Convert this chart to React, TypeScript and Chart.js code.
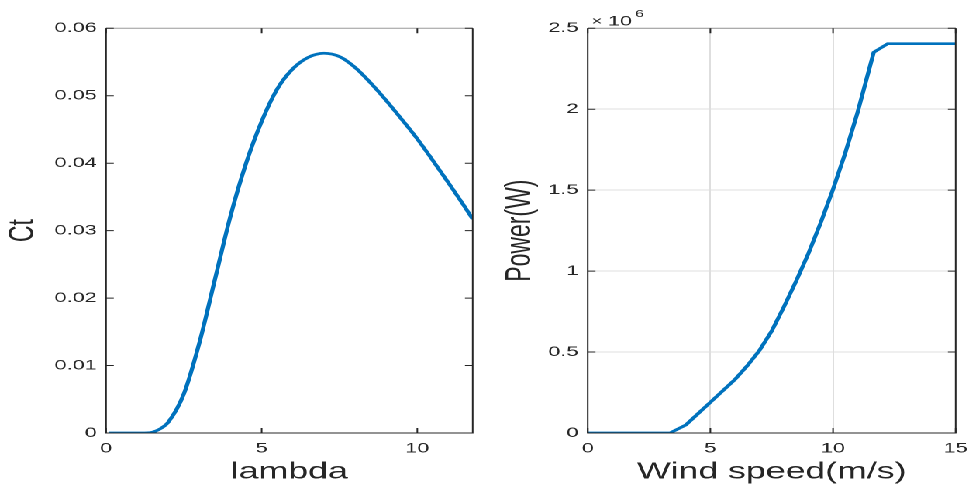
import React, { useEffect, useRef } from 'react';
import { Chart, registerables } from 'chart.js';

Chart.register(...registerables);

// ---- data ----
const lambdaValues = [0.1, 0.5, 1.0, 1.4, 1.6, 1.8, 2.0, 2.5, 3.0, 3.5, 4.0, 4.5, 5.0, 5.5, 6.0, 6.5, 7.0, 7.5, 8.0, 8.5, 9.0, 9.5, 10.0, 10.5, 11.0, 11.5, 11.78];
const ctValues = [0, 0, 0, 0.00005, 0.0003, 0.0008, 0.0016, 0.0058, 0.0134, 0.0228, 0.0322, 0.0400, 0.0462, 0.0510, 0.0540, 0.0557, 0.0563, 0.0558, 0.0542, 0.0519, 0.0493, 0.0465, 0.0436, 0.0404, 0.0371, 0.0337, 0.0317];

const windSpeeds = [0, 3.35, 4.0, 4.5, 5.0, 5.5, 6.0, 6.5, 7.0, 7.5, 8.0, 8.5, 9.0, 9.5, 10.0, 10.5, 11.0, 11.66, 12.23, 15.0];
const powerValues = [0, 0, 50000, 120000, 190000, 260000, 330000, 415000, 510000, 630000, 780000, 940000, 1110000, 1300000, 1505000, 1730000, 1980000, 2352000, 2405000, 2405000];

const ctXTicks = [0, 5, 10];
const ctXTickLabels = ['0', '5', '10'];
const ctYTicks = [0, 0.01, 0.02, 0.03, 0.04, 0.05, 0.06];
const ctYTickLabels = ['0', '0.01', '0.02', '0.03', '0.04', '0.05', '0.06'];

const powerXTicks = [0, 5, 10, 15];
const powerXTickLabels = ['0', '5', '10', '15'];
const powerYTicks = [0, 500000, 1000000, 1500000, 2000000, 2500000];
const powerYTickLabels = ['0', '0.5', '1', '1.5', '2', '2.5'];

// ---- styling ----
const FONT = '"Liberation Sans", Arial, Helvetica, sans-serif';
const TEXT = '#262626';
const LINE = '#0072BD';
const STRETCH = 969 / 625;

const boxPlugin = {
  id: 'matlabBox',
  afterDraw(chart: any) {
    const { ctx, chartArea: a, scales } = chart;
    const x = scales.x;
    const y = scales.y;
    ctx.save();
    ctx.lineWidth = 1;
    ctx.strokeStyle = '#9a9a9a';
    ctx.beginPath();
    ctx.moveTo(a.left, a.top);
    ctx.lineTo(a.right, a.top);
    ctx.stroke();
    ctx.strokeStyle = TEXT;
    ctx.beginPath();
    ctx.moveTo(a.left, a.top);
    ctx.lineTo(a.left, a.bottom);
    ctx.lineTo(a.right, a.bottom);
    ctx.lineTo(a.right, a.top);
    ctx.stroke();
    const tl = 5;
    ctx.beginPath();
    x.ticks.forEach((t: any) => {
      const px = x.getPixelForValue(t.value);
      ctx.moveTo(px, a.bottom);
      ctx.lineTo(px, a.bottom - tl);
      ctx.moveTo(px, a.top);
      ctx.lineTo(px, a.top + tl);
    });
    y.ticks.forEach((t: any) => {
      const py = y.getPixelForValue(t.value);
      ctx.moveTo(a.left, py);
      ctx.lineTo(a.left + tl, py);
      ctx.moveTo(a.right, py);
      ctx.lineTo(a.right - tl, py);
    });
    ctx.stroke();
    ctx.restore();
  },
};

const exponentPlugin = {
  id: 'exponentLabel',
  afterDraw(chart: any) {
    const { ctx, chartArea: a } = chart;
    ctx.save();
    ctx.fillStyle = TEXT;
    ctx.textBaseline = 'alphabetic';
    ctx.textAlign = 'left';
    ctx.font = `12px ${FONT}`;
    ctx.fillText('\u00d7', a.left + 2.4, 25.2);
    ctx.font = `14px ${FONT}`;
    ctx.fillText('10', a.left + 13, 25.7);
    ctx.font = `10px ${FONT}`;
    ctx.fillText('6', a.left + 30.6, 17.2);
    ctx.restore();
  },
};

function makeConfig(opts: {
  xs: number[];
  ys: number[];
  xMax: number;
  yMax: number;
  xTicks: number[];
  xTickLabels: string[];
  yTicks: number[];
  yTickLabels: string[];
  xTitle: string;
  yTitle: string;
  yAxisWidth: number;
  padRight: number;
  yTitlePad: number;
  grid: boolean;
  smooth: boolean;
  plugins: any[];
}): any {
  const tickFont = { family: FONT, size: 14 };
  const titleFont = { family: FONT, size: 23 };
  return {
    type: 'line',
    data: {
      datasets: [
        {
          data: opts.xs.map((x, i) => ({ x, y: opts.ys[i] })),
          borderColor: LINE,
          borderWidth: 2.7,
          pointRadius: 0,
          fill: false,
          cubicInterpolationMode: opts.smooth ? 'monotone' : 'default',
          tension: 0,
        },
      ],
    },
    options: {
      animation: false,
      responsive: false,
      devicePixelRatio: 2,
      events: [],
      layout: { padding: { left: 0, right: opts.padRight, top: 28.3, bottom: 0 } },
      plugins: { legend: { display: false }, tooltip: { enabled: false } },
      scales: {
        x: {
          type: 'linear',
          min: 0,
          max: opts.xMax,
          afterBuildTicks: (s: any) => {
            s.ticks = opts.xTicks.map((v) => ({ value: v }));
          },
          afterFit: (s: any) => {
            s.height = 56;
            s.paddingLeft = 0;
            s.paddingRight = 0;
          },
          ticks: {
            callback: (_v: any, i: number) => opts.xTickLabels[i],
            font: tickFont,
            color: TEXT,
            padding: 7,
            maxRotation: 0,
            autoSkip: false,
          },
          grid: { display: opts.grid, drawTicks: false, color: '#dedede', lineWidth: 1 },
          border: { display: false },
          title: {
            display: true,
            text: opts.xTitle,
            font: titleFont,
            color: TEXT,
            padding: { top: 0, bottom: 3 },
          },
        },
        y: {
          type: 'linear',
          min: 0,
          max: opts.yMax,
          afterBuildTicks: (s: any) => {
            s.ticks = opts.yTicks.map((v) => ({ value: v }));
          },
          afterFit: (s: any) => {
            s.width = opts.yAxisWidth;
            s.paddingTop = 0;
            s.paddingBottom = 0;
          },
          ticks: {
            callback: (_v: any, i: number) => opts.yTickLabels[i],
            font: tickFont,
            color: TEXT,
            padding: 6,
            autoSkip: false,
          },
          grid: { display: opts.grid, drawTicks: false, color: '#dedede', lineWidth: 1 },
          border: { display: false },
          title: {
            display: true,
            text: opts.yTitle,
            font: titleFont,
            color: TEXT,
            padding: { top: opts.yTitlePad, bottom: 0 },
          },
        },
      },
    },
    plugins: opts.plugins,
  };
}

export default function App() {
  const leftRef = useRef<HTMLCanvasElement | null>(null);
  const rightRef = useRef<HTMLCanvasElement | null>(null);

  useEffect(() => {
    if (!leftRef.current || !rightRef.current) return;
    const left = new Chart(
      leftRef.current,
      makeConfig({
        xs: lambdaValues,
        ys: ctValues,
        xMax: 11.78,
        yMax: 0.06,
        xTicks: ctXTicks,
        xTickLabels: ctXTickLabels,
        yTicks: ctYTicks,
        yTickLabels: ctYTickLabels,
        xTitle: 'lambda',
        yTitle: 'Ct',
        yAxisWidth: 68.4,
        padRight: 15.1,
        yTitlePad: 1.4,
        grid: false,
        smooth: true,
        plugins: [boxPlugin],
      })
    );
    const right = new Chart(
      rightRef.current,
      makeConfig({
        xs: windSpeeds,
        ys: powerValues,
        xMax: 15,
        yMax: 2500000,
        xTicks: powerXTicks,
        xTickLabels: powerXTickLabels,
        yTicks: powerYTicks,
        yTickLabels: powerYTickLabels,
        xTitle: 'Wind speed(m/s)',
        yTitle: 'Power(W)',
        yAxisWidth: 59.1,
        padRight: 8.6,
        yTitlePad: 2,
        grid: true,
        smooth: false,
        plugins: [boxPlugin, exponentPlugin],
      })
    );
    return () => {
      left.destroy();
      right.destroy();
    };
  }, []);

  return (
    <div
      style={{
        position: 'fixed',
        left: 0,
        top: 0,
        width: 625,
        height: 489,
        background: '#ffffff',
        transform: `scaleX(${STRETCH})`,
        transformOrigin: '0 0',
      }}
    >
      <div style={{ position: 'absolute', left: 0, top: 0, width: 320, height: 489 }}>
        <canvas ref={leftRef} width={320} height={489} />
      </div>
      <div style={{ position: 'absolute', left: 320, top: 0, width: 305, height: 489 }}>
        <canvas ref={rightRef} width={305} height={489} />
      </div>
    </div>
  );
}
